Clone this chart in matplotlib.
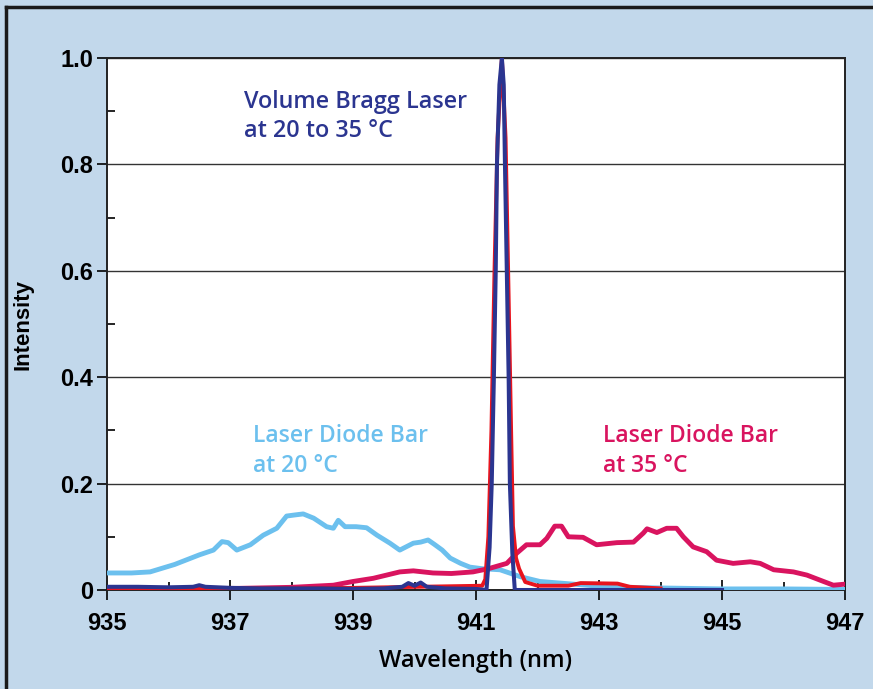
import numpy as np
import matplotlib
matplotlib.use("Agg")
import matplotlib.pyplot as plt
from matplotlib.lines import Line2D

# light blue: laser diode bar at 20 C
wl_20 = [935.0, 935.4, 935.7, 936.1, 936.5, 936.73, 936.87, 936.97, 937.11, 937.33, 937.54,
         937.76, 937.92, 938.05, 938.19, 938.36, 938.57, 938.68, 938.76, 938.87, 939.05,
         939.22, 939.39, 939.6, 939.76, 939.98, 940.1, 940.22, 940.32, 940.45, 940.58,
         940.75, 940.9, 941.1, 941.39, 941.72, 942.04, 942.58, 943.12, 943.9, 945.0, 946.0, 947.0]
int_20 = [0.032, 0.032, 0.034, 0.048, 0.066, 0.075, 0.091, 0.089, 0.075, 0.085, 0.103,
          0.116, 0.139, 0.141, 0.143, 0.135, 0.119, 0.116, 0.131, 0.119, 0.119,
          0.117, 0.103, 0.088, 0.075, 0.088, 0.090, 0.094, 0.086, 0.075, 0.060,
          0.050, 0.043, 0.040, 0.038, 0.025, 0.016, 0.011, 0.006, 0.004, 0.002, 0.002, 0.001]

# magenta: laser diode bar at 35 C
wl_35 = [935.0, 936.0, 937.1, 938.0, 938.68, 939.0, 939.33, 939.76, 939.98, 940.3, 940.6,
         940.95, 941.2, 941.5, 941.66, 941.82, 942.04, 942.15, 942.28, 942.39, 942.5,
         942.74, 942.96, 943.29, 943.56, 943.72, 943.78, 943.94, 944.1, 944.26, 944.37,
         944.53, 944.75, 944.91, 945.18, 945.46, 945.62, 945.84, 946.16, 946.38, 946.65,
         946.81, 947.0]
int_35 = [0.003, 0.003, 0.003, 0.005, 0.009, 0.016, 0.022, 0.034, 0.036, 0.032, 0.031,
          0.034, 0.040, 0.050, 0.069, 0.085, 0.085, 0.097, 0.120, 0.120, 0.100,
          0.099, 0.085, 0.089, 0.090, 0.107, 0.115, 0.108, 0.116, 0.116, 0.100,
          0.081, 0.072, 0.056, 0.050, 0.053, 0.050, 0.038, 0.034, 0.028, 0.016,
          0.009, 0.011]

# red: Bragg laser at 35 C
wl_red = [935.0, 937.0, 939.0, 941.1, 941.15, 941.2, 941.25, 941.3, 941.35, 941.42, 941.48,
          941.53, 941.57, 941.6, 941.65, 941.7, 941.8, 942.0, 942.5, 942.7, 943.3, 943.5, 944.0]
int_red = [0.003, 0.003, 0.004, 0.008, 0.02, 0.1, 0.3, 0.6, 0.85, 1.0, 0.85,
           0.55, 0.3, 0.12, 0.06, 0.04, 0.015, 0.008, 0.008, 0.013, 0.012, 0.006, 0.003]

# dark blue: Bragg laser at 20 C
wl_vbg = [935.0, 935.5, 936.0, 936.4, 936.5, 936.6, 937.0, 937.5, 938.0, 938.5, 939.0,
          939.5, 939.8, 939.9, 940.0, 940.1, 940.2, 940.5, 941.0, 941.17, 941.22, 941.255,
          941.29, 941.32, 941.34, 941.38, 941.42, 941.45, 941.47, 941.5, 941.53, 941.55,
          941.59, 941.63, 942.0, 943.0, 944.0, 945.0]
int_vbg = [0.006, 0.006, 0.005, 0.006, 0.009, 0.006, 0.004, 0.003, 0.003, 0.003, 0.002,
           0.003, 0.006, 0.013, 0.008, 0.014, 0.006, 0.003, 0.002, 0.0, 0.08, 0.2,
           0.4, 0.6, 0.8, 0.95, 1.0, 0.95, 0.8, 0.6, 0.4, 0.2,
           0.07, 0.0, 0.0, 0.0, 0.0, 0.0]

c_light = "#6cc0ee"
c_mag = "#d9145f"
c_red = "#e8141e"
c_dark = "#2b3590"
bg = "#c2d8eb"

fig = plt.figure(figsize=(8.73, 6.89), dpi=100, facecolor=bg)
ax = fig.add_axes([0.1226, 0.1437, 0.8454, 0.7721])

ax.plot(wl_20, int_20, color=c_light, lw=3.5, solid_joinstyle="round", zorder=3)
ax.plot(wl_35, int_35, color=c_mag, lw=3.5, solid_joinstyle="round", zorder=3)
ax.plot(wl_red, int_red, color=c_red, lw=2.8, zorder=4)
ax.plot(wl_vbg, int_vbg, color=c_dark, lw=2.9, zorder=5)

ax.set_xlim(935, 947)
ax.set_ylim(0, 1.0)
ax.set_xticks([935, 937, 939, 941, 943, 945, 947])
ax.set_xticks([936, 938, 940, 942, 944, 946], minor=True)
ax.set_yticks([0, 0.2, 0.4, 0.6, 0.8, 1.0])
ax.set_yticklabels(["0", "0.2", "0.4", "0.6", "0.8", "1.0"])
ax.set_yticks([0.1, 0.3, 0.5, 0.7, 0.9], minor=True)
ax.grid(axis="y", which="major", color="#333333", lw=1.0, zorder=1)

tick_font = ["Liberation Sans Narrow", "Liberation Sans"]
ax.tick_params(axis="x", which="major", direction="inout", length=14, width=1.2,
               labelsize=17, pad=9)
ax.tick_params(axis="x", which="minor", direction="in", length=6, width=1.2)
ax.tick_params(axis="y", which="major", direction="out", length=7, width=1.2,
               labelsize=17, pad=3)
ax.tick_params(axis="y", which="minor", direction="in", length=6, width=1.2)
for lab in ax.get_xticklabels() + ax.get_yticklabels():
    lab.set_family(tick_font)
    lab.set_weight("bold")

for s in ax.spines.values():
    s.set_color("#222222")
    s.set_linewidth(1.4)

ann_font = ["Open Sans", "DejaVu Sans"]
ax.set_xlabel("Wavelength (nm)", fontsize=17, family=ann_font, weight="semibold",
              labelpad=10)
ax.set_ylabel("Intensity", fontsize=16, family=tick_font, weight="bold", labelpad=19)

ax.text(937.23, 0.89, "Volume Bragg Laser\nat 20 to 35 \u00b0C", color=c_dark,
        fontsize=16.8, weight="semibold", family=ann_font, va="center", linespacing=1.3)
ax.text(937.37, 0.261, "Laser Diode Bar\nat 20 \u00b0C", color=c_light,
        fontsize=16.5, weight="semibold", family=ann_font, va="center", linespacing=1.3)
ax.text(943.07, 0.261, "Laser Diode Bar\nat 35 \u00b0C", color=c_mag,
        fontsize=16.5, weight="semibold", family=ann_font, va="center", linespacing=1.3)

# outer frame of the figure (left and top edges)
fig.add_artist(Line2D([0.007, 0.007], [0, 0.99], transform=fig.transFigure,
                      color="#1a1a1a", lw=2.5))
fig.add_artist(Line2D([0.007, 1.0], [0.99, 0.99], transform=fig.transFigure,
                      color="#1a1a1a", lw=2.5))

fig.savefig("out.png", dpi=100, facecolor=bg)
